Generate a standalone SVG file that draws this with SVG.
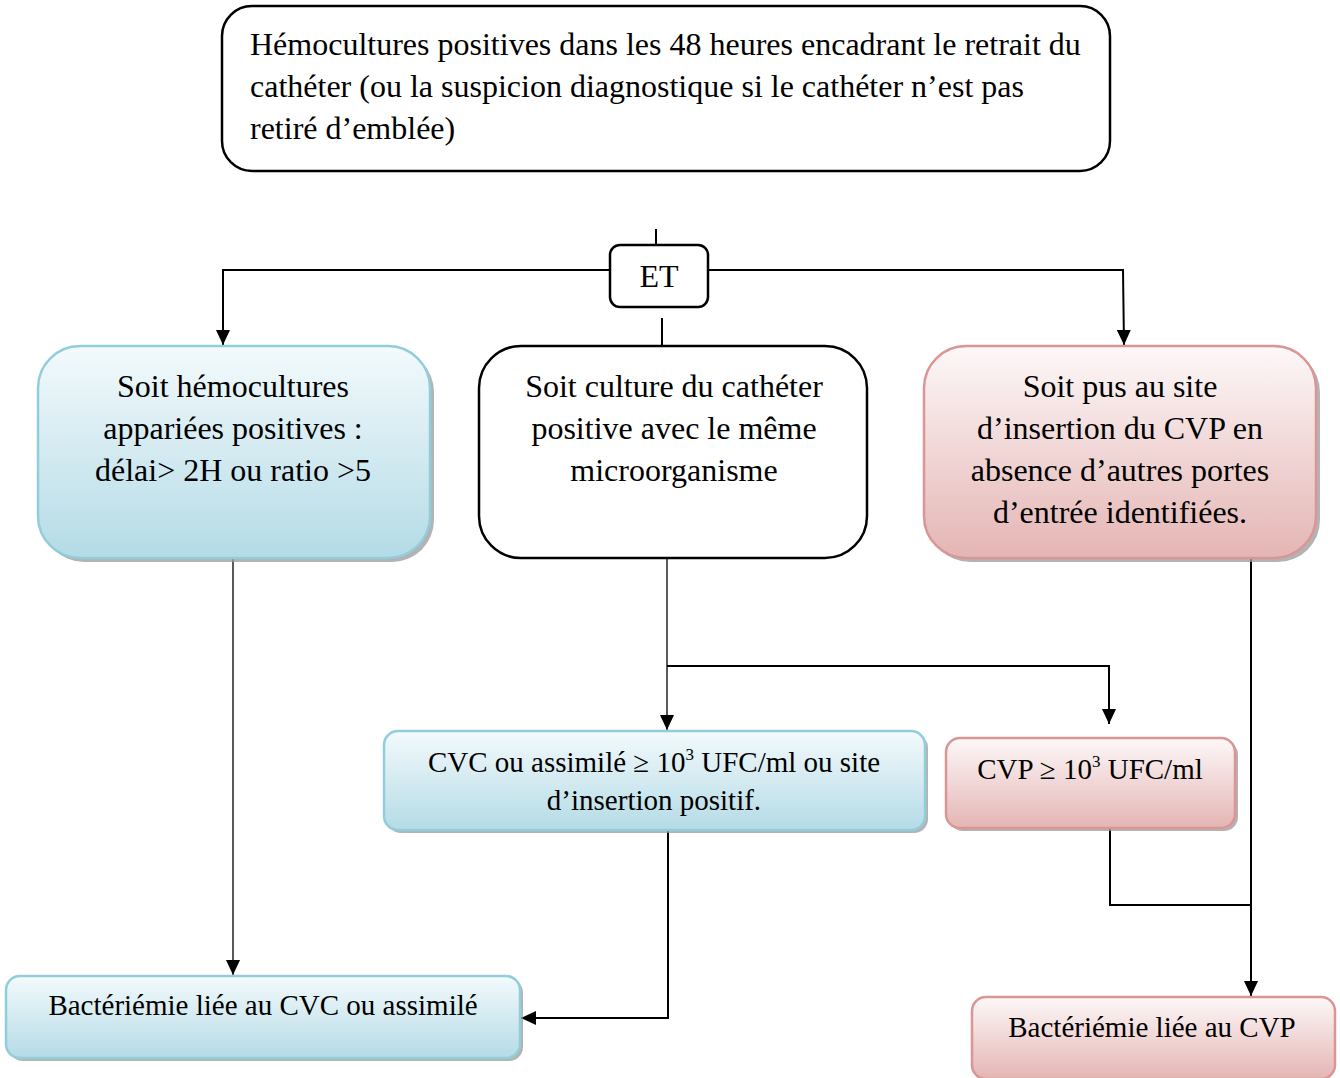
<svg xmlns="http://www.w3.org/2000/svg" width="1340" height="1078" viewBox="0 0 1340 1078">
<defs>
<linearGradient id="gBlue" x1="0" y1="0" x2="0" y2="1">
<stop offset="0" stop-color="#f3fafc"/>
<stop offset="1" stop-color="#b4dbe6"/>
</linearGradient>
<linearGradient id="gPink" x1="0" y1="0" x2="0" y2="1">
<stop offset="0" stop-color="#fdf8f8"/>
<stop offset="1" stop-color="#e4b5b4"/>
</linearGradient>
<marker id="arr" markerUnits="userSpaceOnUse" markerWidth="16" markerHeight="16" viewBox="0 0 16 16" refX="15" refY="8" orient="auto">
<path d="M0,1 L15,8 L0,15 Z" fill="#000"/>
</marker>
</defs>
<style>
text{font-family:"Liberation Serif","Times New Roman",serif;fill:#000;}
.t28{font-size:32px;}
.t26{font-size:29px;}
.c{text-anchor:middle;}
.blue{fill:url(#gBlue);stroke:#92cddc;stroke-width:2.5;}
.pink{fill:url(#gPink);stroke:#d99694;stroke-width:2.5;}
.plain{fill:#fff;stroke:#000;stroke-width:2.5;}
.shadow{fill:#9a9a9a;opacity:0.75;}
.ln{fill:none;stroke:#000;stroke-width:2;}
.thin{fill:none;stroke:#000;stroke-width:1.3;}
</style>

<g id="connectors">
<line class="ln" x1="656" y1="229" x2="656" y2="245"/>
<polyline class="ln" points="610,270 223,270 223,345" marker-end="url(#arr)"/>
<polyline class="ln" points="708,270 1123,270 1124,345" marker-end="url(#arr)"/>
<line class="ln" x1="662" y1="318" x2="662" y2="345"/>
<line class="thin" x1="233" y1="559" x2="233" y2="975" marker-end="url(#arr)"/>
<line class="thin" x1="667" y1="559" x2="667" y2="730" marker-end="url(#arr)"/>
<polyline class="ln" points="667,666 1109,666 1109,724" marker-end="url(#arr)"/>
<polyline class="ln" points="668,831 668,1018 521,1018" marker-end="url(#arr)"/>
<line class="ln" x1="1251" y1="559" x2="1251" y2="996" marker-end="url(#arr)"/>
<polyline class="ln" points="1110,829 1110,905 1251,905"/>
</g>

<g id="top">
<rect x="222" y="6" width="888" height="165" rx="30" class="plain"/>
<text class="t28" x="250" y="55">Hémocultures positives dans les 48 heures encadrant le retrait du</text>
<text class="t28" x="250" y="97">cathéter (ou la suspicion diagnostique si le cathéter n’est pas</text>
<text class="t28" x="250" y="139">retiré d’emblée)</text>
</g>

<g id="et">
<rect x="610" y="245" width="98" height="62" rx="10" class="plain"/>
<text class="t28 c" x="659" y="287">ET</text>
</g>

<g id="hemo">
<rect x="42" y="350" width="392" height="212" rx="42" class="shadow"/>
<rect x="38" y="346" width="392" height="212" rx="42" class="blue"/>
<text class="t28 c" x="233" y="397">Soit hémocultures</text>
<text class="t28 c" x="233" y="439">appariées positives :</text>
<text class="t28 c" x="233" y="481">délai&gt; 2H ou ratio &gt;5</text>
</g>

<g id="culture">
<rect x="479" y="346" width="388" height="212" rx="42" class="plain"/>
<text class="t28 c" x="674" y="397">Soit culture du cathéter</text>
<text class="t28 c" x="674" y="439">positive avec le même</text>
<text class="t28 c" x="674" y="481">microorganisme</text>
</g>

<g id="pus">
<rect x="928" y="350" width="392" height="212" rx="42" class="shadow"/>
<rect x="924" y="346" width="392" height="212" rx="42" class="pink"/>
<text class="t28 c" x="1120" y="397">Soit pus au site</text>
<text class="t28 c" x="1120" y="439">d’insertion du CVP en</text>
<text class="t28 c" x="1120" y="481">absence d’autres portes</text>
<text class="t28 c" x="1120" y="523">d’entrée identifiées.</text>
</g>

<g id="cvc">
<rect x="387" y="734" width="541" height="99" rx="14" class="shadow"/>
<rect x="384" y="731" width="541" height="99" rx="14" class="blue"/>
<text class="t26 c" x="654" y="772">CVC ou assimilé ≥ 10<tspan font-size="17" dy="-12">3</tspan><tspan dy="12"> UFC/ml ou site</tspan></text>
<text class="t26 c" x="654" y="810">d’insertion positif.</text>
</g>

<g id="cvp">
<rect x="949" y="741" width="289" height="90" rx="14" class="shadow"/>
<rect x="946" y="738" width="289" height="90" rx="14" class="pink"/>
<text class="t26 c" x="1090" y="779">CVP ≥ 10<tspan font-size="17" dy="-12">3</tspan><tspan dy="12"> UFC/ml</tspan></text>
</g>

<g id="bact-cvc">
<rect x="9" y="979" width="514" height="82" rx="14" class="shadow"/>
<rect x="6" y="976" width="514" height="82" rx="14" class="blue"/>
<text class="t26 c" x="263" y="1015">Bactériémie liée au CVC ou assimilé</text>
</g>

<g id="bact-cvp">
<rect x="972" y="997" width="363" height="82" rx="14" class="pink"/>
<text class="t26 c" x="1152" y="1037">Bactériémie liée au CVP</text>
</g>
</svg>
